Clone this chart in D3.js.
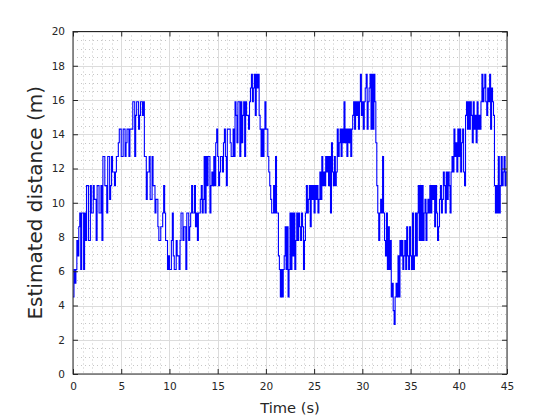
<!DOCTYPE html>
<html><head><meta charset="utf-8">
<script src="https://cdn.jsdelivr.net/npm/d3@7"></script>
<style>
body{margin:0;background:#fff}
svg{display:block}
text{font-family:"DejaVu Sans",sans-serif;fill:#262626}
</style>
</head><body>
<svg id="chart" width="560" height="420"></svg>
<script>
// ---- data ----
const sampleStep = 0.1; // seconds between samples
const distance = [
4.5,6.1,5.3,6.1,7.8,6.9,8.6,9.4,6.1,9.4,
9.4,6.1,9.4,7.8,11,11,7.8,7.8,11,9.4,
9.4,11,10.2,10.2,7.8,11,11,9.4,9.4,11,
7.8,12.7,12.7,11,11,9.4,12.7,12.7,10.2,11,
12.7,11.8,11.8,11,11.8,12.7,12.7,13.5,14.3,14.3,
12.7,12.7,14.3,14.3,12.7,13.5,14.3,14.3,12.7,14.3,
14.3,14.3,15.9,15.9,12.7,15.1,15.9,15.9,14.3,15.1,
15.9,15.9,15.1,15.9,12.7,12.7,10.2,11.8,11.8,12.7,
10.2,10.2,12.7,11,11,9.4,10.2,10.2,8.6,7.8,
7.8,8.6,8.6,9.4,11,9.4,7.8,7.8,6.1,6.9,
6.1,6.1,7.8,9.4,6.9,6.1,6.1,7.8,6.9,6.9,
6.1,7.8,9.4,9.4,7.8,8.6,8.6,6.1,9.4,9.4,
7.8,8.6,9.4,11,9.4,9.4,11,8.6,9.4,7.8,
9.4,9.4,10.2,11,9.4,10.2,12.7,9.4,12.7,11,
12.7,12.7,9.4,11,11.8,11,12.7,11,13.5,14.3,
12.7,11,11.8,12.7,12.7,11.8,13.5,14.3,12.7,11,
14.3,14.3,14.3,13.5,12.7,12.7,14.3,12.7,15.9,15.1,
13.5,15.9,15.9,12.7,15.9,13.5,15.1,15.9,12.7,15.9,
15.1,15.1,14.3,15.9,16.7,17.5,15.9,16.7,17.5,15.1,
17.5,16.7,17.5,15.1,14.3,12.7,14.3,12.7,14.3,15.9,
14.3,14.3,12.7,11.8,11,10.2,9.4,9.4,11,9.4,
12.7,9.4,9.4,6.9,6.1,4.5,6.1,4.5,6.1,6.9,
8.6,6.1,8.6,4.5,6.1,9.4,6.1,9.4,6.9,9.4,
6.1,7.8,9.4,7.8,9.4,8.6,7.8,9.4,8.6,6.1,
7.8,9.4,11,9.4,10.2,11,8.6,11,10.2,11,
9.4,11,10.2,11,9.4,10.2,11.8,10.2,12.7,11,
11.8,11,12.7,11.8,12.7,11,12.7,9.4,13.5,11.8,
11,12.7,11,11.8,14.3,12.7,13.5,14.3,12.7,14.3,
13.5,15.9,13.5,14.3,12.7,14.3,13.5,14.3,12.7,14.3,
15.1,15.9,14.3,15.9,15.1,15.9,14.3,15.9,17.5,15.1,
15.9,14.3,15.9,16.7,17.5,14.3,15.9,16.7,17.5,14.3,
17.5,14.3,17.5,15.9,13.5,11,9.4,7.8,9.4,10.2,
9.4,12.7,9.4,7.8,6.9,9.4,6.1,8.6,6.1,7.8,
4.5,5.3,3.7,2.9,4.5,5.3,4.5,6.9,4.5,7.8,
6.9,7.8,6.1,6.9,7.8,6.1,8.6,6.9,6.1,8.6,
6.9,6.1,9.4,6.1,6.9,9.4,6.9,9.4,11,7.8,
11,7.8,11,7.8,9.4,10.2,7.8,9.4,10.2,9.4,
11,9.4,11,10.2,11,8.6,11,9.4,7.8,8.6,
10.2,11,9.4,10.2,11.8,11,9.4,11.8,10.2,11.8,
11,9.4,11.8,12.7,11.8,14.3,12.7,13.5,11.8,14.3,
12.7,14.3,11.8,13.5,14.3,11.8,11,15.1,15.9,14.3,
15.9,14.3,15.9,15.1,13.5,15.9,14.3,15.1,13.5,15.9,
14.3,15.1,14.3,15.9,17.5,15.9,16.7,17.5,15.9,15.1,
16.7,15.9,17.5,14.3,16.7,15.9,15.1,11,9.4,11,
9.4,12.7,9.4,11,12.7,11,11.8,12.7,11,11.8,
11.8
];
const xTickValues = [0,5,10,15,20,25,30,35,40,45];
const yTickValues = [0,2,4,6,8,10,12,14,16,18,20];
const xLabel = "Time (s)";
const yLabel = "Estimated distance (m)";

// ---- layout ----
const W = 560, H = 420;
const L = 73, R = 507, T = 31.5, B = 374;
const svg = d3.select("#chart");
svg.append("rect").attr("width", W).attr("height", H).attr("fill", "#fff");

const x = d3.scaleLinear().domain([0, 45]).range([L, R]);
const y = d3.scaleLinear().domain([0, 20]).range([B, T]);

// minor grid (dotted)
const xMinor = d3.range(0, 45.001, 1).filter(v => v % 5 !== 0);
const yMinor = d3.range(0, 20.001, 0.5).filter(v => Math.abs(v % 2) > 1e-6);
const grid = svg.append("g");
grid.selectAll(".mx").data(xMinor).join("line")
  .attr("x1", d => Math.round(x(d)) + 0.5).attr("x2", d => Math.round(x(d)) + 0.5)
  .attr("y1", T).attr("y2", B)
  .attr("stroke", "#c6c6c6").attr("stroke-width", 1).attr("stroke-dasharray", "1,3");
grid.selectAll(".my").data(yMinor).join("line")
  .attr("y1", d => Math.round(y(d)) + 0.5).attr("y2", d => Math.round(y(d)) + 0.5)
  .attr("x1", L).attr("x2", R)
  .attr("stroke", "#c6c6c6").attr("stroke-width", 1).attr("stroke-dasharray", "1,3");
// major grid
grid.selectAll(".gx").data(xTickValues).join("line")
  .attr("x1", d => Math.round(x(d)) + 0.5).attr("x2", d => Math.round(x(d)) + 0.5)
  .attr("y1", T).attr("y2", B).attr("stroke", "#dcdcdc").attr("stroke-width", 1);
grid.selectAll(".gy").data(yTickValues).join("line")
  .attr("y1", d => Math.round(y(d)) + 0.5).attr("y2", d => Math.round(y(d)) + 0.5)
  .attr("x1", L).attr("x2", R).attr("stroke", "#dcdcdc").attr("stroke-width", 1);

// data line (quantised estimate, drawn as steps)
const line = d3.line()
  .x((d, i) => x(i * sampleStep))
  .y(d => y(d))
  .curve(d3.curveStepAfter);
svg.append("path").datum(distance)
  .attr("d", line).attr("fill", "none")
  .attr("stroke", "#0000ff").attr("stroke-width", 1.1)
  .attr("stroke-linejoin", "miter");

// axes (ticks inward, box)
const tickLen = 5;
const fmt = d3.format("d");
const axB = svg.append("g").attr("transform", `translate(0,${B})`)
  .call(d3.axisBottom(x).tickValues(xTickValues).tickFormat(fmt).tickSizeInner(-tickLen).tickSizeOuter(0).tickPadding(9));
const axT = svg.append("g").attr("transform", `translate(0,${T})`)
  .call(d3.axisTop(x).tickValues(xTickValues).tickFormat("").tickSizeInner(-tickLen).tickSizeOuter(0));
const axL = svg.append("g").attr("transform", `translate(${L},0)`)
  .call(d3.axisLeft(y).tickValues(yTickValues).tickFormat(fmt).tickSizeInner(-tickLen).tickSizeOuter(0).tickPadding(8));
const axR = svg.append("g").attr("transform", `translate(${R},0)`)
  .call(d3.axisRight(y).tickValues(yTickValues).tickFormat("").tickSizeInner(-tickLen).tickSizeOuter(0));
[axB, axT, axL, axR].forEach(g => {
  g.select(".domain").remove();
  g.selectAll("line").attr("stroke", "#262626");
  g.selectAll("text").attr("fill", "#262626").style("font-size", "10.5px").style("font-family", "DejaVu Sans");
});
svg.append("rect").attr("x", L).attr("y", T).attr("width", R - L).attr("height", B - T)
  .attr("fill", "none").attr("stroke", "#262626").attr("stroke-width", 1);

// labels
svg.append("text").attr("x", (L + R) / 2).attr("y", 413).attr("text-anchor", "middle")
  .style("font-size", "14.7px").text(xLabel);
svg.append("text").attr("transform", `translate(42,${(T + B) / 2}) rotate(-90)`)
  .attr("text-anchor", "middle").style("font-size", "20px").text(yLabel);
</script>
</body></html>
